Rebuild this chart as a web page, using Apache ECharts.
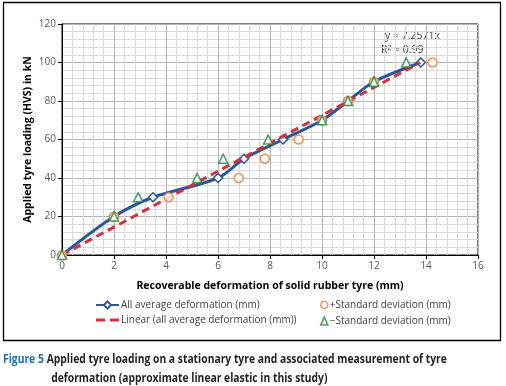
<!DOCTYPE html>
<html>
<head>
<meta charset="utf-8">
<script src="https://cdn.jsdelivr.net/npm/echarts@6/dist/echarts.min.js"></script>
<style>
  html, body { margin: 0; padding: 0; background: #fff; }
  #main { width: 506px; height: 386px; }
</style>
</head>
<body>
<div id="main"></div>
<script>
// averages (x = deformation mm, y = load kN)
var avgDef = [0, 2, 3.5, 6, 7, 8.5, 10, 11, 12, 13.8];
var avgLoad = [0, 20, 30, 40, 50, 60, 70, 80, 90, 100];
// + standard deviation
var plusDef = [0, 2, 4.1, 6.8, 7.8, 9.1, 10, 11, 12, 14.25];
var plusLoad = [0, 20, 30, 40, 50, 60, 70, 80, 90, 100];
// - standard deviation
var minusDef = [0, 2, 2.93, 5.2, 6.2, 7.93, 10, 11, 12, 13.24];
var minusLoad = [0, 20, 30, 40, 50, 60, 70, 80, 90, 100];
// linear trend y = 7.2571x
var slope = 7.2571;
var linDef = [0, 13.78];

function pairs(xs, ys) {
    return xs.map(function (x, i) { return [x, ys[i]]; });
}

var myChart = echarts.init(document.getElementById('main'));

var tickFont = { color: '#595959', fontSize: 10, fontFamily: 'Open Sans' };
var legendFont = { color: '#404040', fontSize: 10, fontFamily: 'Open Sans', padding: [0, 0, 0, -3] };
var blue = '#2b5797', red = '#d1313d', orange = '#ed7d31', green = '#1e8a3c';

myChart.setOption({
    animation: false,
    grid: {
        left: 62, right: 28, top: 24, bottom: 131,
        show: true, borderColor: '#000', borderWidth: 1
    },
    xAxis: {
        type: 'value', min: 0, max: 16, interval: 2,
        name: 'Recoverable deformation of solid rubber tyre (mm)',
        nameLocation: 'middle', nameGap: 26,
        nameTextStyle: { color: '#000', fontWeight: 'bold', fontSize: 10.5, fontFamily: 'Open Sans' },
        axisLine: { lineStyle: { color: '#000', width: 1 } },
        axisTick: { show: true, length: 4, lineStyle: { color: '#000' } },
        axisLabel: Object.assign({ margin: 6 }, tickFont),
        splitLine: { lineStyle: { color: '#b4b4b4', width: 1 } },
        minorTick: { show: false, splitNumber: 5 },
        minorSplitLine: { show: true, lineStyle: { color: '#d9d9d9', width: 1 } }
    },
    yAxis: {
        type: 'value', min: 0, max: 120, interval: 20,
        name: 'Applied tyre loading (HVS) in kN',
        nameLocation: 'middle', nameGap: 28, nameMoveOverlap: false,
        nameTextStyle: { color: '#000', fontWeight: 'bold', fontSize: 10.5, fontFamily: 'Open Sans' },
        axisLine: { show: true, lineStyle: { color: '#000', width: 1 } },
        axisTick: { show: true, length: 4, lineStyle: { color: '#000' } },
        axisLabel: Object.assign({ margin: 6 }, tickFont),
        splitLine: { lineStyle: { color: '#b4b4b4', width: 1 } },
        minorTick: { show: false, splitNumber: 5 },
        minorSplitLine: { show: true, lineStyle: { color: '#d9d9d9', width: 1 } }
    },
    legend: [
        {
            orient: 'vertical', left: 90, top: 295, itemGap: 5,
            itemWidth: 23, itemHeight: 9,
            textStyle: legendFont,
            data: [
                { name: 'All average deformation (mm)' },
                { name: 'Linear (all average deformation (mm))',
                  icon: 'path://M0,0H9V3H0Z M14,0H23V3H14Z',
                  itemStyle: { color: red, borderWidth: 0 } }
            ]
        },
        {
            orient: 'vertical', left: 315, top: 295, itemGap: 6,
            itemWidth: 7, itemHeight: 8,
            textStyle: legendFont,
            data: [
                { name: '+Standard deviation (mm)', icon: 'circle',
                  itemStyle: { color: '#fff', borderColor: orange, borderWidth: 1.6 } },
                { name: '\u2212Standard deviation (mm)', icon: 'triangle',
                  itemStyle: { color: '#fff', borderColor: green, borderWidth: 1.6 } }
            ]
        }
    ],
    graphic: [
        {
            type: 'rect', silent: true, z: -1,
            shape: { x: 3.5, y: 2.5, width: 497, height: 338 },
            style: { fill: 'none', stroke: '#000', lineWidth: 1.3 }
        },
        {
            type: 'text', left: 385, top: 31,
            style: { text: 'y = 7.2571x', fill: '#404040', font: '10.5px "Open Sans"' }
        },
        {
            type: 'text', left: 381, top: 45,
            style: { text: 'R{s|2} = 0.99', fill: '#404040', font: '10.5px "Open Sans"',
                rich: { s: { fontSize: 7, verticalAlign: 'top', padding: [0, 0, 4, 0], fill: '#404040' } } }
        },
        {
            type: 'text', x: 3, y: 350, scaleX: 0.86,
            style: {
                text: '{b|Figure 5} {t|Applied tyre loading on a stationary tyre and associated measurement of tyre}\n{i|}{t|deformation (approximate linear elastic in this study)}',
                rich: {
                    b: { fill: '#1f6db5', fontWeight: 'bold', fontSize: 12, fontFamily: 'Open Sans', lineHeight: 19 },
                    t: { fill: '#231f20', fontWeight: 'bold', fontSize: 12, fontFamily: 'Open Sans', lineHeight: 19 },
                    i: { width: 56, lineHeight: 19 }
                }
            }
        }
    ],
    series: [
        {
            name: 'All average deformation (mm)',
            type: 'line', smooth: 0.3, z: 2,
            data: pairs(avgDef, avgLoad),
            symbol: 'diamond', symbolSize: 9, showAllSymbol: true,
            itemStyle: { color: '#fff', borderColor: blue, borderWidth: 1.5 },
            lineStyle: { color: blue, width: 3 }
        },
        {
            name: 'Linear (all average deformation (mm))',
            type: 'line', z: 3,
            data: linDef.map(function (x) { return [x, slope * x]; }),
            symbol: 'none',
            itemStyle: { color: red },
            lineStyle: { color: red, width: 3, type: [8, 5] }
        },
        {
            name: '+Standard deviation (mm)',
            type: 'scatter', z: 4,
            data: pairs(plusDef, plusLoad),
            symbol: 'circle', symbolSize: 9,
            itemStyle: { color: '#fff', borderColor: orange, borderWidth: 1.6 }
        },
        {
            name: '\u2212Standard deviation (mm)',
            type: 'scatter', z: 5,
            data: pairs(minusDef, minusLoad),
            symbol: 'triangle', symbolSize: 9,
            itemStyle: { color: '#fff', borderColor: green, borderWidth: 1.6 }
        }
    ]
});

window.addEventListener('resize', function () {
    myChart.resize();
});
</script>
</body>
</html>
